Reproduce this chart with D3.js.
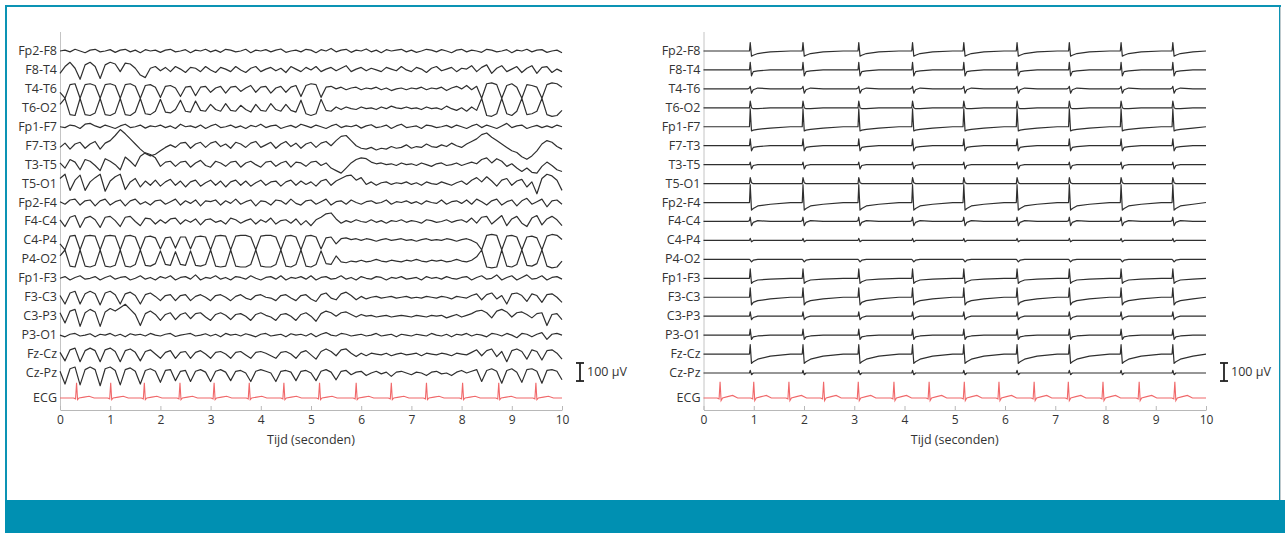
<!DOCTYPE html>
<html>
<head>
<meta charset="utf-8">
<script src="https://cdn.jsdelivr.net/npm/d3@7"></script>
<style>
  body { margin: 0; background: #fff; }
  svg { display: block; }
  .label { font-family: "Open Sans", sans-serif; font-size: 12.5px; fill: #333; }
  .title { font-family: "Open Sans", sans-serif; font-size: 12.5px; fill: #333; }
  .axis text { font-family: "Open Sans", sans-serif; font-size: 12px; fill: #333; }
  .axis path, .axis line { stroke: #b8b8b8; }
  .trace { fill: none; stroke: #2f2f2f; stroke-width: 1.2; stroke-linejoin: round; }
  .ecg { fill: none; stroke: #f0686a; stroke-width: 1.1; }
</style>
</head>
<body>
<script>
var channels = ["Fp2-F8", "F8-T4", "T4-T6", "T6-O2", "Fp1-F7", "F7-T3", "T3-T5", "T5-O1",
  "Fp2-F4", "F4-C4", "C4-P4", "P4-O2", "Fp1-F3", "F3-C3", "C3-P3", "P3-O1", "Fz-Cz", "Cz-Pz"];
var tickValues = [0, 1, 2, 3, 4, 5, 6, 7, 8, 9, 10];
var sampleStep = 0.1; // seconds between samples of the left recording (µV)

// left recording, one value every 0.1 s
var L_Fp2F8 = [0,5,-5,10,0,-10,5,10,-5,0, 8,-8,5,10,-5,5,-10,8,0,5, -8,5,10,-5,0,8,-10,5,0,10, -5,5,-8,10,5,-5,0,10,-10,5,
  0,8,-5,5,12,-8,0,5,-5,10, 5,-10,8,0,15,-5,5,10,-8,5, 0,12,-5,5,-10,8,0,5,10,-5, 5,-8,0,10,5,-5,8,0,-10,5,
  10,-5,5,0,-8,10,5,-5,0,8, -10,5,0,10,-5,5,8,-8,0,5,-10];
var L_F8T4 = [-20,20,45,10,-55,30,45,20,-50,30, 45,35,-10,40,35,10,-30,-45,10,20, -5,15,-10,20,5,-15,15,10,-10,20, 0,-15,15,5,-10,20,0,-15,10,20,
  -10,5,15,-5,10,-15,20,5,-10,15, 0,20,-10,5,15,-5,10,25,-10,5, 15,-5,10,0,-10,15,5,-5,20,0, -10,15,5,-15,10,20,-5,5,15,-10,
  10,5,25,-10,15,30,-20,10,25,-10, 5,20,-15,10,25,-20,15,20,-15,5,-10];
var L_T4T6 = [-20,-55,25,30,-55,25,30,20,-55,25, 30,20,-55,25,30,15,-55,20,25,10, -50,15,20,5,-45,10,15,-40,10,15, -20,5,15,-25,10,15,-15,5,20,-20,
  10,15,-25,5,15,-20,10,20,-45,20, 30,25,-50,10,15,0,10,-5,5,10, -5,5,0,10,-5,5,-10,0,5,-5, 5,0,10,-5,5,0,10,-10,5,15,
  0,20,-5,15,-55,30,35,25,-55,20, 30,10,-55,25,20,10,-55,25,35,30,10];
var L_T6O2 = [20,55,-40,-45,55,-40,-45,-30,55,-40, -45,-30,55,-40,-45,-25,55,-35,-40,-20, 50,-25,-30,-10,45,-20,-25,40,-15,-20, 20,-10,-20,25,-15,-20,15,-10,-25,20,
  -15,-20,25,-10,-20,20,-15,-25,45,-35, -45,-35,50,-15,-20,5,-10,5,-5,-10, 5,-5,0,-10,5,-5,10,0,-5,5, -5,0,-10,5,-5,0,-10,10,-5,-15,
  0,-20,5,-15,55,-45,-50,-35,55,-35, -45,-20,55,-40,-35,-20,55,-40,-50,-45,-15];
var L_Fp1F7 = [0,-5,10,5,-10,15,20,5,-5,10, 0,-10,5,15,-5,0,10,-8,5,0, 10,-5,5,-10,15,0,5,-5,10,-10, 5,15,-5,0,10,-5,5,-10,8,0,
  15,-5,5,10,-10,0,8,-5,15,5, -5,10,0,-10,5,15,-5,5,0,10, -8,5,12,-5,0,10,-10,5,15,-5, 0,5,-10,10,5,-5,0,8,-5,10,
  0,-10,5,15,-5,10,0,-10,5,20, -5,5,10,-10,0,8,-5,5,-5,10,0];
var L_F7T3 = [-10,15,-20,10,20,-15,10,25,-20,15, 30,60,95,70,40,10,-20,-45,-60,-50, -30,-10,5,-10,15,20,-15,10,20,-10, 15,25,-5,10,-15,20,10,-10,15,25,
  -10,5,20,-15,10,25,-5,15,-15,10, 20,-10,15,25,0,30,55,60,30,0, -15,-20,-10,-25,-15,-20,-5,-15,-10,5, -15,-5,-10,10,-5,-10,5,-5,15,0,
  -10,10,25,40,65,75,50,30,10,-10, -30,-40,-65,-80,-60,-30,10,30,20,-5,-20];
var L_T3T5 = [10,-20,30,15,-30,30,20,-5,-35,35, 20,0,-30,45,20,-10,50,70,60,40, -10,15,20,-10,15,20,-15,10,25,-5, -15,20,10,-10,15,20,-15,10,20,0,
  -15,15,20,-10,10,20,-15,15,10,-10, 15,20,-5,10,-20,-35,-50,-20,10,30, 40,35,15,5,10,0,5,-5,10,0, 5,-5,10,0,-10,5,10,-5,0,10,
  -5,5,15,5,30,40,10,35,20,-10, 5,-20,-40,-20,-45,-50,-10,15,-5,-30,-40];
var L_T5O1 = [30,55,-40,20,50,-40,10,35,55,-45, 15,40,55,-35,10,30,-20,15,-10,20, -15,10,25,-10,15,-20,10,20,-15,5, 20,-10,15,-20,10,20,-10,15,-15,5,
  20,-10,10,15,-15,10,20,-10,15,-5, 10,-15,15,25,-10,15,30,45,50,20, 35,-5,10,-10,5,10,-5,5,0,10, -5,5,-10,10,0,-5,10,0,-10,5,
  15,-5,20,35,10,40,15,-15,20,30, -10,15,25,-20,10,-60,30,55,45,20,-40];
var L_Fp2F4 = [5,-10,15,20,-15,10,15,-20,10,20, -15,5,15,-20,10,20,-10,5,-15,10, 15,-10,5,20,-15,10,-5,15,-20,10, 5,15,-15,10,-5,20,-10,5,15,-20,
  10,5,-15,15,10,-10,20,-5,-15,10, 15,-10,5,20,-15,5,10,-10,15,0, -10,5,10,-5,0,15,-10,5,0,10, -5,5,-10,10,0,-5,15,-10,5,10,
  -5,15,-10,20,5,-15,10,20,-15,5, 15,-20,10,25,-10,5,20,-25,10,15,-10];
var L_F4C4 = [10,-30,25,35,-35,20,30,10,-35,25, 30,5,-30,25,30,0,-25,20,15,-15, 10,-10,15,20,-15,10,-5,15,-20,10, 15,-5,5,-15,20,10,-10,5,15,-15,
  10,-5,20,-15,5,10,-10,15,-20,5, -25,10,25,45,50,15,-10,5,-5,10, 0,-5,10,-5,5,-10,5,0,10,-5, 5,0,-10,10,5,-5,0,10,-5,5,
  10,-5,20,-10,25,30,-15,10,35,-25, 15,30,-10,-30,20,35,-20,15,30,10,-25];
var L_C4P4 = [-20,-55,25,30,-55,25,30,25,-55,25, 30,25,-55,25,30,20,-55,20,25,15, -50,15,20,-45,20,20,-50,20,25,20, -55,25,30,25,-55,25,30,30,20,-55,
  25,30,30,20,-55,25,30,20,-55,25, 30,20,-50,15,20,-20,10,15,5,10, 0,10,5,-5,5,10,0,5,10,0, 5,-5,5,10,0,5,0,10,5,-5,
  5,10,0,-15,-55,30,35,30,-55,25, 30,20,-55,20,25,15,-55,25,35,30,5];
var L_P4O2 = [20,55,-40,-45,55,-40,-45,-35,55,-40, -45,-35,55,-40,-45,-30,55,-35,-40,-25, 50,-30,-35,45,-30,-35,50,-35,-40,-30, 55,-40,-45,-40,55,-40,-45,-45,-30,55,
  -40,-45,-45,-30,55,-40,-45,-30,55,-40, -45,-30,50,-25,-30,20,-15,-20,-10,-15, -5,-15,-10,0,-10,-15,-5,-10,-15,-5, -10,0,-10,-15,-5,-10,-5,-15,-10,0,
  -10,-15,-5,15,55,-45,-50,-45,55,-40, -45,-30,55,-35,-40,-25,55,-40,-50,-45,-10];
var L_Fp1F3 = [0,10,-10,5,15,-5,0,10,-10,5, 15,-5,5,10,-10,0,15,-5,5,-10, 10,0,15,-10,5,10,-5,20,-10,5, 0,15,-5,5,-10,10,5,-5,15,0,
  -10,5,10,-5,15,-10,5,0,10,-5, 15,-10,5,10,-5,0,15,-5,5,-10, 10,0,-5,10,5,-10,5,0,10,-5, 0,5,-10,10,0,5,-5,10,0,-5,
  5,10,-10,5,15,-5,0,20,-10,5, 15,-10,5,20,-5,0,15,-10,5,10,-5];
var L_F3C3 = [10,-40,25,35,-40,20,35,20,-45,25, 35,15,-40,20,30,10,-40,15,25,5, -20,10,15,-20,10,15,-20,5,15,0, -20,10,15,0,-20,5,15,-5,-15,10,
  15,0,-5,-20,10,15,-5,-20,10,15, -10,-25,15,25,-5,-15,20,30,10,-15, 5,-10,0,5,-5,0,5,-5,0,5, -5,0,-5,5,0,-5,5,0,-10,5,
  0,-5,10,20,-15,15,25,-10,10,-40, 20,25,10,-25,20,10,-30,15,20,0,-30];
var L_C3P3 = [20,-40,30,40,-60,20,40,25,-60,25, 45,30,50,70,40,10,-55,15,30,10, -25,10,20,-20,10,20,-15,15,20,-5, -25,10,20,5,-20,10,15,0,-25,10,
  20,5,-5,-25,10,15,0,-25,10,20, 0,-30,15,30,20,0,20,25,10,-5, 10,0,5,-5,0,5,-5,0,5,0, -5,5,0,-5,5,0,5,-10,0,10,
  -5,5,15,30,35,20,-10,30,40,25, -5,20,25,10,-10,15,20,-55,10,15,-20];
var L_P3O1 = [0,-10,5,10,-5,0,8,-10,5,0, 10,-5,5,-10,8,0,5,-5,10,0, -5,5,10,-8,0,5,10,-5,0,8, -5,5,-10,10,0,5,-5,8,0,-10,
  5,10,-5,0,5,-10,8,0,5,-5, 10,-10,5,15,0,-5,10,5,-5,0, 5,-5,0,10,-5,0,5,-10,5,0, -5,5,0,-5,10,0,-5,5,-10,5,
  0,10,-5,5,0,-10,10,5,-5,10, 0,-15,10,5,-10,5,15,-25,5,10,0];
var L_FzCz = [10,-40,25,35,-45,20,35,20,-45,25, 35,15,-45,20,30,10,-40,15,25,0, -25,10,20,-25,10,15,-25,10,20,0, -25,10,15,0,-25,10,15,-5,-25,10,
  15,5,-10,-25,10,15,0,-25,10,20, -5,-30,15,30,15,-10,25,30,5,-15, 5,-10,5,0,-5,5,-10,0,5,-5, 0,5,-10,5,0,-5,5,0,-10,5,
  0,-5,10,25,-10,20,30,-15,15,-45, 20,30,15,-30,25,15,-35,20,25,5,-30];
var L_CzPz = [10,-65,25,35,-70,20,35,20,-75,25, 35,15,-70,20,30,10,-65,15,25,10, -55,15,20,-45,10,15,-50,10,20,5, -50,10,20,5,-45,10,15,0,-50,10,
  20,10,0,-50,10,15,5,-45,10,15, 0,-45,10,20,5,-40,10,15,-10,5, 10,-15,0,10,-5,5,-20,5,10,0, -10,5,0,-15,5,10,-5,0,-15,5,
  15,0,10,20,-50,15,25,10,-60,15, 25,5,-55,20,25,10,-60,15,20,10,-40];
var leftTraces = [L_Fp2F8, L_F8T4, L_T4T6, L_T6O2, L_Fp1F7, L_F7T3, L_T3T5, L_T5O1, L_Fp2F4,
  L_F4C4, L_C4P4, L_P4O2, L_Fp1F3, L_F3C3, L_C3P3, L_P3O1, L_FzCz, L_CzPz];

// right recording: artefact complexes at these times (s), same shape per channel
var rightSpikeTimes = [0.93, 1.98, 3.09, 4.16, 5.18, 6.24, 7.28, 8.31, 9.34];
var spikeDt = [-0.05, -0.015, 0, 0.025, 0.06, 0.15, 0.4, 0.8];
var R_Fp2F8 = [0, 0, 50, -30, -25, -15, -5, 0];
var R_F8T4 = [0, 0, 45, -35, -10, -5, 0, 0];
var R_T4T6 = [0, 5, 15, -25, -5, 5, 0, 0];
var R_T6O2 = [0, 0, 40, 0, -5, -5, 0, 0];
var R_Fp1F7 = [0, 0, 105, -25, -20, -15, -8, 0];
var R_F7T3 = [0, 0, 40, -30, -10, -5, 0, 0];
var R_T3T5 = [0, 0, 15, -25, -5, 0, 0, 0];
var R_T5O1 = [0, 0, 35, 5, 0, 0, 0, 0];
var R_Fp2F4 = [0, 0, 105, -45, -35, -20, -10, 0];
var R_F4C4 = [0, 5, 25, -25, -5, 5, 0, 0];
var R_C4P4 = [0, 0, 12, -8, 0, 0, 0, 0];
var R_P4O2 = [0, 0, -5, -15, -5, 0, 0, 0];
var R_Fp1F3 = [0, 0, 55, -30, -20, -10, -5, 0];
var R_F3C3 = [0, 0, 55, -45, -30, -20, -10, 0];
var R_C3P3 = [0, 0, 25, -20, -8, 0, 0, 0];
var R_P3O1 = [0, 0, 35, -25, -10, -5, 0, 0];
var R_FzCz = [0, 0, 55, -55, -45, -30, -12, 0];
var R_CzPz = [0, 0, 15, -10, 0, 0, 0, 0];
var rightShapes = [R_Fp2F8, R_F8T4, R_T4T6, R_T6O2, R_Fp1F7, R_F7T3, R_T3T5, R_T5O1, R_Fp2F4,
  R_F4C4, R_C4P4, R_P4O2, R_Fp1F3, R_F3C3, R_C3P3, R_P3O1, R_FzCz, R_CzPz];

// ECG: R-peak times (s) and the beat shape (µV) around each peak
var leftEcgR = [0.33, 1.01, 1.68, 2.39, 3.07, 3.77, 4.46, 5.17, 5.9, 6.6, 7.3, 8.02, 8.74, 9.48];
var rightEcgR = [0.33, 1.0, 1.7, 2.39, 3.08, 3.79, 4.49, 5.19, 5.88, 6.58, 7.26, 7.95, 8.67, 9.38];
var ecgDt = [-0.06, -0.02, 0, 0.02, 0.05, 0.15, 0.25, 0.35];
var leftEcgBeat = [0, -5, 90, -10, 0, 5, 10, 0];
var rightEcgBeat = [0, -5, 95, -15, 0, 8, 15, 0];

var W = 1285, H = 533;
var svg = d3.select("body").append("svg").attr("width", W).attr("height", H);

// frame
svg.append("rect").attr("x", 6).attr("y", 6).attr("width", 1274).attr("height", 500)
  .attr("fill", "#fff").attr("stroke", "#0c93b4").attr("stroke-width", 2);
svg.append("line").attr("x1", 1280.5).attr("x2", 1280.5).attr("y1", 7).attr("y2", 500)
  .attr("stroke", "#bfc9cc").attr("stroke-width", 1);
svg.append("rect").attr("x", 5).attr("y", 500).attr("width", 1280).attr("height", 33).attr("fill", "#0090b2");

var uv = d3.scaleLinear().domain([0, 100]).range([0, -17]);
var rowY = d3.scaleLinear().domain([0, 17]).range([51, 373]);
var ecgY = 398;
var axisY = 410;

function beats(times, dt, shape) {
  var pts = [[0, 0]];
  times.forEach(function(t) {
    dt.forEach(function(d, k) {
      var tt = t + d;
      if (tt > 0 && tt < 10) pts.push([tt, shape[k]]);
    });
  });
  pts.push([10, 0]);
  return pts;
}

function panel(x0, x1, getTrace, ecgTimes, ecgBeat) {
  var x = d3.scaleLinear().domain([0, 10]).range([x0, x1]);
  var g = svg.append("g");

  g.append("line").attr("x1", x0 + 0.5).attr("x2", x0 + 0.5).attr("y1", 32).attr("y2", axisY)
    .attr("stroke", "#c4c4c4");

  g.append("g")
    .attr("class", "axis")
    .attr("transform", "translate(0," + axisY + ")")
    .call(d3.axisBottom(x).tickValues(tickValues).tickSizeInner(-4).tickSizeOuter(0).tickPadding(5));

  g.append("text").attr("class", "title")
    .attr("x", (x0 + x1) / 2).attr("y", 444).attr("text-anchor", "middle")
    .text("Tijd (seconden)");

  channels.forEach(function(name, i) {
    var base = rowY(i);
    var line = d3.line()
      .x(function(d) { return x(d[0]); })
      .y(function(d) { return base + uv(d[1]); });
    g.append("path").attr("class", "trace").attr("d", line(getTrace(i)));
    g.append("text").attr("class", "label")
      .attr("x", x0 - 3).attr("y", base + 4).attr("text-anchor", "end")
      .text(name);
  });

  var ecgLine = d3.line()
    .x(function(d) { return x(d[0]); })
    .y(function(d) { return ecgY + uv(d[1]); });
  g.append("path").attr("class", "ecg").attr("d", ecgLine(beats(ecgTimes, ecgDt, ecgBeat)));
  g.append("text").attr("class", "label")
    .attr("x", x0 - 3).attr("y", ecgY + 4).attr("text-anchor", "end").text("ECG");

  // 100 µV scale bar
  var bx = x1 + 18, by = 372;
  var bar = g.append("g").attr("stroke", "#222").attr("stroke-width", 1.8);
  bar.append("line").attr("x1", bx).attr("x2", bx).attr("y1", by + uv(53)).attr("y2", by + uv(-53));
  bar.append("line").attr("x1", bx - 4).attr("x2", bx + 4).attr("y1", by + uv(53)).attr("y2", by + uv(53));
  bar.append("line").attr("x1", bx - 4).attr("x2", bx + 4).attr("y1", by + uv(-53)).attr("y2", by + uv(-53));
  g.append("text").attr("class", "label").attr("x", bx + 7).attr("y", by + 4).text("100 μV");
}

panel(60, 562, function(i) {
  return leftTraces[i].map(function(v, k) { return [k * sampleStep, v]; });
}, leftEcgR, leftEcgBeat);

panel(703.5, 1206, function(i) {
  return beats(rightSpikeTimes, spikeDt, rightShapes[i]);
}, rightEcgR, rightEcgBeat);
</script>
</body>
</html>
